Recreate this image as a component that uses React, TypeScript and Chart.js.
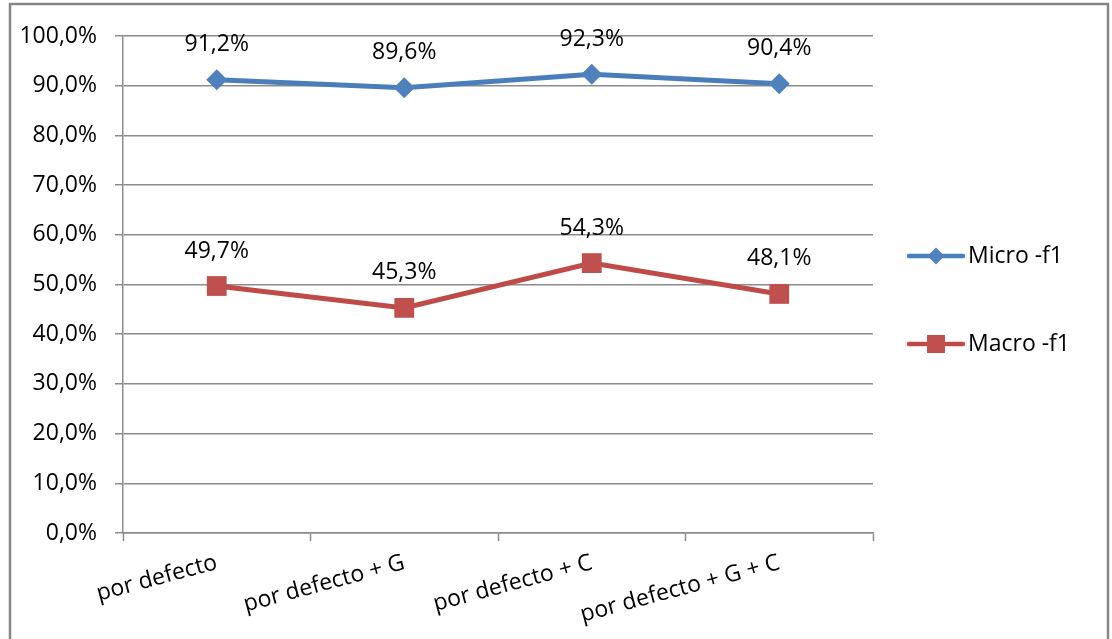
import React, { useEffect, useRef } from "react";
import { Chart, registerables } from "chart.js";

Chart.register(...registerables);

const categories = ["por defecto", "por defecto + G", "por defecto + C", "por defecto + G + C"];
const microF1 = [91.2, 89.6, 92.3, 90.4];
const macroF1 = [49.7, 45.3, 54.3, 48.1];
const seriesNames = ["Micro -f1", "Macro -f1"];

const FONT = "'Open Sans', 'Liberation Sans', sans-serif";
const FS = 23;
const GRID = "#8c8c8c";
const BLUE = "#4A7EBB";
const BLUE_M = "#4F81BD";
const RED = "#BE4B48";
const RED_M = "#C0504D";

const fmt = (v: number) => v.toFixed(1).replace(".", ",") + "%";

const framePlugin = {
  id: "frame",
  beforeDraw(chart: any) {
    const ctx = chart.ctx;
    ctx.save();
    ctx.fillStyle = "#ffffff";
    ctx.fillRect(0, 0, chart.width, chart.height);
    ctx.strokeStyle = "#868686";
    ctx.lineWidth = 2.5;
    ctx.strokeRect(10, 4, 1098, 700);
    ctx.restore();
  },
};

const labelPlugin = {
  id: "valueLabels",
  afterDatasetsDraw(chart: any) {
    const ctx = chart.ctx;
    ctx.save();
    ctx.font = `${FS}px ${FONT}`;
    ctx.fillStyle = "#000";
    ctx.textAlign = "center";
    ctx.textBaseline = "middle";
    chart.data.datasets.forEach((ds: any, i: number) => {
      const meta = chart.getDatasetMeta(i);
      meta.data.forEach((pt: any, j: number) => {
        ctx.fillText(fmt(ds.data[j]), pt.x, pt.y - 35);
      });
    });
    ctx.restore();
  },
};

const legendPlugin = {
  id: "sideLegend",
  afterDraw(chart: any) {
    const ctx = chart.ctx;
    const area = chart.chartArea;
    const x0 = area.right + 36;
    const y0 = area.top + 220;
    const styles = [
      { line: BLUE, marker: BLUE_M, shape: "diamond" },
      { line: RED, marker: RED_M, shape: "square" },
    ];
    ctx.save();
    styles.forEach((s, i) => {
      const y = y0 + i * 88;
      ctx.strokeStyle = s.line;
      ctx.lineWidth = 4.5;
      ctx.lineCap = "round";
      ctx.beginPath();
      ctx.moveTo(x0, y);
      ctx.lineTo(x0 + 54, y);
      ctx.stroke();
      ctx.fillStyle = s.marker;
      const cx = x0 + 27;
      ctx.beginPath();
      if (s.shape === "diamond") {
        ctx.moveTo(cx, y - 8.5);
        ctx.lineTo(cx + 8.5, y);
        ctx.lineTo(cx, y + 8.5);
        ctx.lineTo(cx - 8.5, y);
        ctx.closePath();
      } else {
        ctx.rect(cx - 9, y - 9, 18, 18);
      }
      ctx.fill();
      ctx.fillStyle = "#000";
      ctx.font = `${FS}px ${FONT}`;
      ctx.textAlign = "left";
      ctx.textBaseline = "middle";
      ctx.fillText(seriesNames[i], x0 + 59, y);
    });
    ctx.restore();
  },
};

export default function App() {
  const ref = useRef<HTMLCanvasElement | null>(null);
  useEffect(() => {
    if (!ref.current) return;
    const chart = new Chart(ref.current, {
      type: "line",
      data: {
        labels: categories,
        datasets: [
          {
            label: seriesNames[0],
            data: microF1,
            borderColor: BLUE,
            backgroundColor: BLUE_M,
            borderWidth: 5,
            pointStyle: "rectRot",
            pointRadius: 10.5,
            pointBackgroundColor: BLUE_M,
            pointBorderColor: BLUE_M,
            pointBorderWidth: 0,
            tension: 0,
          },
          {
            label: seriesNames[1],
            data: macroF1,
            borderColor: RED,
            backgroundColor: RED_M,
            borderWidth: 5,
            pointStyle: "rect",
            pointRadius: 14,
            pointBackgroundColor: RED_M,
            pointBorderColor: RED_M,
            pointBorderWidth: 0,
            tension: 0,
          },
        ],
      },
      options: {
        animation: false,
        responsive: true,
        maintainAspectRatio: false,
        layout: { padding: { top: 36, right: 239, left: 0, bottom: 0 } },
        plugins: {
          legend: { display: false },
          tooltip: { enabled: false },
          title: { display: false },
        },
        scales: {
          x: {
            offset: true,
            afterFit(scale: any) {
              scale.height = 106;
            },
            grid: {
              offset: true,
              drawOnChartArea: false,
              drawTicks: true,
              tickLength: 8,
              tickWidth: 1.5,
              tickColor: GRID,
            },
            border: { color: GRID, width: 1.5 },
            ticks: {
              autoSkip: false,
              minRotation: 15,
              maxRotation: 15,
              padding: 8,
              color: "#000",
              font: { family: FONT, size: FS },
            },
          },
          y: {
            min: 0,
            max: 100,
            afterFit(scale: any) {
              scale.width = 123;
            },
            grid: {
              color: GRID,
              lineWidth: 1.5,
              drawTicks: true,
              tickLength: 8,
            },
            border: { color: GRID, width: 1.5 },
            ticks: {
              stepSize: 10,
              padding: 18,
              color: "#000",
              font: { family: FONT, size: FS },
              callback: (v: any) => fmt(Number(v)),
            },
          },
        },
      },
      plugins: [framePlugin, labelPlugin, legendPlugin],
    });
    return () => chart.destroy();
  }, []);
  return (
    <div style={{ position: "absolute", left: 0, top: 0, width: 1112, height: 639 }}>
      <canvas ref={ref} />
    </div>
  );
}
